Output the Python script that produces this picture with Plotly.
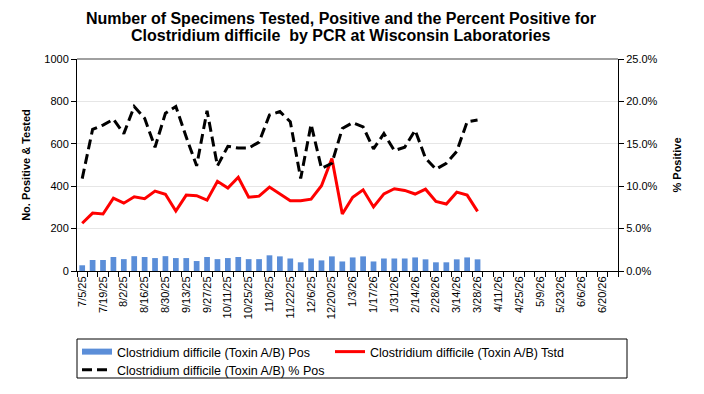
import plotly.graph_objects as go
import datetime as dt

# Weekly categories 7/5/25 .. 6/27/26 (52 weeks)
start = dt.date(2025, 7, 5)
weeks = [start + dt.timedelta(days=7 * i) for i in range(52)]
week_labels = [f"{d.month}/{d.day}/{d.year % 100}" for d in weeks]

pos = [27, 52, 52, 66, 56, 70, 66, 61, 70, 61, 61, 47, 66, 56, 61, 66, 56, 56, 74,
       69, 59, 41, 59, 50, 69, 45, 64, 69, 45, 59, 59, 59, 64, 55, 41, 41, 55, 64, 55]
tested = [225, 273, 269, 344, 320, 350, 341, 377, 362, 283, 358, 355, 334, 423, 391, 442, 348, 353, 396,
          364, 331, 331, 339, 402, 531, 269, 348, 383, 302, 364, 388, 380, 363, 386, 328, 316, 372, 358, 281]
pct_pos = [10.9, 16.7, 17.2, 17.9, 16.2, 19.4, 18.0, 14.6, 18.6, 19.4, 15.8, 12.4, 18.9, 12.4, 14.7, 14.5, 14.5, 15.2, 18.4,
           18.8, 17.6, 10.9, 17.3, 12.1, 12.7, 16.8, 17.5, 17.0, 14.4, 16.2, 14.2, 14.6, 16.6, 13.3, 12.0, 12.7, 14.1, 17.6, 17.8]

title_lines = ["Number of Specimens Tested, Positive and the Percent Positive for",
               "Clostridium difficile  by PCR at Wisconsin Laboratories"]

n = len(pos)
x_idx = list(range(n))
all_idx = list(range(len(week_labels)))

font = "Liberation Sans, Arial, sans-serif"
bar_color = "#5B8ED8"
name_pos = "Clostridium difficile (Toxin A/B) Pos"
name_tstd = "Clostridium difficile (Toxin A/B) Tstd"
name_pct = "Clostridium difficile (Toxin A/B) % Pos"

# page-pixel helpers (page has an 8px body margin)
PX0, PX1, PY0, PY1 = 77, 618, 59, 271
def px(x):
    return (x - PX0) / (PX1 - PX0)
def py(y):
    return (PY1 - y) / (PY1 - PY0)

fig = go.Figure()
fig.add_trace(go.Bar(
    x=x_idx, y=pos, name=name_pos, showlegend=False,
    marker=dict(color=bar_color, line=dict(width=0)), width=0.55,
))
# legend-only entry giving the wide rectangle swatch used for the bars
fig.add_trace(go.Scatter(
    x=[None], y=[None], name=name_pos, mode="lines",
    line=dict(color=bar_color, width=6), legend="legend",
))
fig.add_trace(go.Scatter(
    x=x_idx, y=tested, name=name_tstd, legend="legend",
    mode="lines", line=dict(color="#FF0000", width=3),
))
fig.add_trace(go.Scatter(
    x=x_idx, y=pct_pos, name=name_pct, legend="legend2",
    mode="lines", line=dict(color="#000000", width=3, dash="10px,5px"), yaxis="y2",
))

legend_common = dict(
    orientation="h", x=0, xanchor="left", yanchor="top",
    borderwidth=0, bgcolor="rgba(0,0,0,0)",
    font=dict(size=12.5, family=font, color="black"), entrywidth=208, tracegroupgap=0,
    itemwidth=30,
)

fig.update_layout(
    width=696, height=386,
    margin=dict(l=69, r=86, t=51, b=123, autoexpand=False),
    paper_bgcolor="white", plot_bgcolor="white",
    font=dict(family=font, size=11, color="black"),
    xaxis=dict(
        range=[-0.5, len(week_labels) - 0.5], automargin=False,
        tickmode="array", tickvals=all_idx[::2], ticktext=week_labels[::2],
        tickangle=-90, ticks="", showgrid=False, zeroline=False,
        showline=True, linecolor="black", linewidth=1,
        tickfont=dict(size=11),
        minor=dict(ticks="outside", tick0=-0.5, dtick=1, ticklen=5, tickcolor="black", showgrid=False),
    ),
    yaxis=dict(
        range=[0, 1000], dtick=200, showline=True, linecolor="black", linewidth=1,
        ticks="outside", ticklen=5, tickcolor="black", automargin=False,
        showgrid=True, gridcolor="#E6E6E6", gridwidth=1, zeroline=False,
        title=dict(text="No. Positive & Tested", font=dict(size=11, weight="bold"), standoff=11),
        tickfont=dict(size=11),
    ),
    yaxis2=dict(
        range=[0, 25], dtick=5, overlaying="y", side="right", automargin=False,
        showline=True, linecolor="black", linewidth=1,
        ticks="outside", ticklen=5, tickcolor="black",
        ticksuffix="%", tickformat=".1f", showgrid=False, zeroline=False,
        title=dict(text="% Positive", font=dict(size=11, weight="bold"), standoff=16),
        tickfont=dict(size=11),
    ),
    legend=dict(legend_common, y=py(337)),
    legend2=dict(legend_common, y=py(355)),
    showlegend=True,
)
for txt, yline in zip(title_lines, [18.3, 35.7]):
    fig.add_annotation(
        text=txt, xref="paper", yref="paper", x=px(341), y=py(yline),
        xanchor="center", yanchor="middle", showarrow=False,
        font=dict(family=font, size=16, color="black", weight="bold"),
    )
fig.add_shape(type="line", xref="paper", yref="paper", x0=0, x1=1, y0=1, y1=1,
              line=dict(color="#808080", width=1.5))
# legend frame
fig.add_shape(type="rect", xref="paper", yref="paper",
              x0=0, x1=px(627), y0=py(378), y1=py(339),
              line=dict(color="black", width=1))

fig.write_html("out.html")
